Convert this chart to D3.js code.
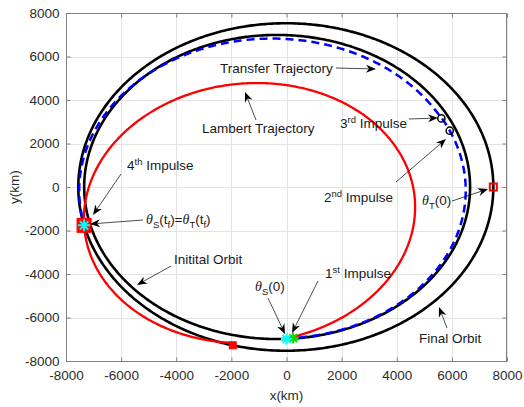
<!DOCTYPE html>
<html>
<head>
<meta charset="utf-8">
<script src="https://cdn.jsdelivr.net/npm/d3@7"></script>
<style>
  html, body { margin: 0; padding: 0; background: #fff; }
  svg { display: block; font-family: "Liberation Sans", Arial, Helvetica, sans-serif; }
</style>
</head>
<body>
<svg id="chart" width="524" height="407"></svg>
<script>
// ---- Orbital elements (km, degrees); focus at the origin ----
const orbitNames     = ["Initial Orbit", "Final Orbit", "Lambert Trajectory", "Transfer Leg 1", "Transfer Leg 2"];
const semiMajorAxes  = [7000, 7529, 6127, 6809, 6984];
const eccentricities = [0.0486, 0.0033, 0.2936, 0.0509, 0.0796];
const periapsisArgs  = [0, 0, 41.76, 28.5, 14.4];
// true-anomaly span drawn for each orbit (deg)
const arcStarts = [-180, -180, -90, -90, 29.3];
const arcEnds   = [180, 180, 255, 29.3, 193.5];

// ---- Events: orbit index and true anomaly (deg) ----
const eventNames     = ["thetaS0", "impulse1", "impulse2", "impulse3", "impulse4", "thetaT0", "lambertEnd"];
const eventOrbits    = [0, 3, 3, 4, 1, 1, 1];
const eventAnomalies = [-90, -88, 23.6, 29.3, 193.5, 0, 255];

// ---- Axes ----
const xTicks = [-8000, -6000, -4000, -2000, 0, 2000, 4000, 6000, 8000];
const yTicks = [-8000, -6000, -4000, -2000, 0, 2000, 4000, 6000, 8000];
const xLabel = "x(km)";
const yLabel = "y(km)";

// ---- Layout ----
const plot = { left: 66, right: 507, top: 13, bottom: 361 };
const svg = d3.select("#chart");
const x = d3.scaleLinear().domain([-8000, 8000]).range([plot.left, plot.right]);
const y = d3.scaleLinear().domain([-8000, 8000]).range([plot.bottom, plot.top]);
const FS = 13.5;
const rad = Math.PI / 180;

function orbitPoint(i, nuDeg) {
  const a = semiMajorAxes[i], e = eccentricities[i];
  const p = a * (1 - e * e);
  const r = p / (1 + e * Math.cos((nuDeg - periapsisArgs[i]) * rad));
  return [r * Math.cos(nuDeg * rad), r * Math.sin(nuDeg * rad)];
}
function arcPoints(i, from, to) {
  const pts = d3.range(from, to, 0.5).map(nu => orbitPoint(i, nu));
  pts.push(orbitPoint(i, to));
  return pts;
}
const line = d3.line().x(d => x(d[0])).y(d => y(d[1]));

// grid
const grid = svg.append("g").attr("stroke", "#e3e3e3").attr("stroke-width", 1);
grid.selectAll("line.gx").data(xTicks).join("line")
  .attr("x1", d => Math.round(x(d)) + 0.5).attr("x2", d => Math.round(x(d)) + 0.5)
  .attr("y1", plot.top).attr("y2", plot.bottom);
grid.selectAll("line.gy").data(yTicks).join("line")
  .attr("y1", d => Math.round(y(d)) + 0.5).attr("y2", d => Math.round(y(d)) + 0.5)
  .attr("x1", plot.left).attr("x2", plot.right);

// orbits
const curves = svg.append("g").attr("fill", "none");
[0, 1].forEach(i => {
  curves.append("path")
    .datum(arcPoints(i, arcStarts[i], arcEnds[i]))
    .attr("d", d => line(d) + "Z")
    .attr("stroke", "#000").attr("stroke-width", 2.6);
});
// transfer trajectory (two legs joined so the dash pattern runs on)
const transferPts = arcPoints(3, arcStarts[3], arcEnds[3]).concat(arcPoints(4, arcStarts[4], arcEnds[4]));
curves.append("path").datum(transferPts).attr("d", line)
  .attr("stroke", "#0000ff").attr("stroke-width", 2.5).attr("stroke-dasharray", "8,5");
// Lambert trajectory
curves.append("path").datum(arcPoints(2, arcStarts[2], arcEnds[2])).attr("d", line)
  .attr("stroke", "#ff0000").attr("stroke-width", 2.3);

// box and ticks
const axisColor = "#808080";
svg.append("rect").attr("x", plot.left + 0.5).attr("y", plot.top + 0.5)
  .attr("width", plot.right - plot.left - 1).attr("height", plot.bottom - plot.top)
  .attr("fill", "none").attr("stroke", axisColor).attr("stroke-width", 1);

const fmt = d => String(d);
const gx = svg.append("g").attr("transform", `translate(0,${plot.bottom + 0.5})`)
  .call(d3.axisBottom(x).tickValues(xTicks).tickFormat(fmt).tickSizeInner(-4).tickSizeOuter(0).tickPadding(9));
const gy = svg.append("g").attr("transform", `translate(${plot.left + 0.5},0)`)
  .call(d3.axisLeft(y).tickValues(yTicks).tickFormat(fmt).tickSizeInner(-4).tickSizeOuter(0).tickPadding(7));
const gt = svg.append("g").attr("transform", `translate(0,${plot.top + 0.5})`)
  .call(d3.axisTop(x).tickValues(xTicks).tickFormat("").tickSizeInner(-4).tickSizeOuter(0));
const gr = svg.append("g").attr("transform", `translate(${plot.right - 0.5},0)`)
  .call(d3.axisRight(y).tickValues(yTicks).tickFormat("").tickSizeInner(-4).tickSizeOuter(0));
[gx, gy, gt, gr].forEach(g => {
  g.select(".domain").remove();
  g.selectAll(".tick line").attr("stroke", axisColor);
  g.selectAll("text").attr("font-size", FS).attr("fill", "#2b2b2b")
    .attr("font-family", "'Liberation Sans', Arial, sans-serif");
});

svg.append("text").attr("x", (plot.left + plot.right) / 2).attr("y", 400)
  .attr("text-anchor", "middle").attr("font-size", FS).attr("fill", "#2b2b2b").text(xLabel);
svg.append("text").attr("transform", "translate(19,187) rotate(-90)")
  .attr("text-anchor", "middle").attr("font-size", FS).attr("fill", "#2b2b2b").text(yLabel);

// ---- Markers ----
const ev = name => {
  const k = eventNames.indexOf(name);
  const pt = orbitPoint(eventOrbits[k], eventAnomalies[k]);
  return [x(pt[0]), y(pt[1])];
};
const marks = svg.append("g");
function asterisk(cx, cy, r, color, w) {
  const d = r * Math.SQRT1_2;
  const p = `M${cx - r},${cy}H${cx + r}M${cx},${cy - r}V${cy + r}` +
            `M${cx - d},${cy - d}L${cx + d},${cy + d}M${cx - d},${cy + d}L${cx + d},${cy - d}`;
  marks.append("path").attr("d", p).attr("stroke", color).attr("stroke-width", w).attr("fill", "none");
}
function square(c, s, fill, stroke, w) {
  marks.append("rect").attr("x", c[0] - s / 2).attr("y", c[1] - s / 2).attr("width", s).attr("height", s)
    .attr("fill", fill).attr("stroke", stroke).attr("stroke-width", w);
}
// target start and Lambert end on the final orbit
square(ev("thetaT0"), 7, "none", "#ff0000", 2);
square(ev("lambertEnd"), 7, "#ff0000", "#ff0000", 1);
// rendezvous point
square(ev("impulse4"), 14, "#ff0000", "#ff0000", 1);
asterisk(...ev("impulse4"), 6, "#00ffff", 2);
// 2nd / 3rd impulse circles
["impulse2", "impulse3"].forEach(n => {
  const c = ev(n);
  marks.append("circle").attr("cx", c[0]).attr("cy", c[1]).attr("r", 3.6)
    .attr("fill", "none").attr("stroke", "#000").attr("stroke-width", 1.5);
});
// 1st impulse and spacecraft start
asterisk(...ev("impulse1"), 5.5, "#00dd00", 2);
asterisk(...ev("thetaS0"), 5.5, "#00ffff", 2);

// ---- Annotations ----
const TH = { t: "θ", greek: true };
const notes = [
  { parts: [{ t: "Transfer Trajectory" }], x: 220, y: 73, from: [336, 68], to: [376, 69] },
  { parts: [{ t: "Lambert Trajectory" }], x: 202, y: 133, from: [256, 120], to: [245, 92] },
  { parts: [{ t: "3" }, { t: "rd", sup: true }, { t: " Impulse" }], x: 340, y: 128, from: [409, 119], to: [438, 118] },
  { parts: [{ t: "2" }, { t: "nd", sup: true }, { t: " Impulse" }], x: 324, y: 202, from: [396, 182], to: [446, 139] },
  { parts: [TH, { t: "T", sub: true }, { t: "(0)" }], x: 422, y: 205, from: [452, 201], to: [488, 189] },
  { parts: [{ t: "4" }, { t: "th", sup: true }, { t: " Impulse" }], x: 127, y: 170, from: [121, 174], to: [93, 215] },
  { parts: [TH, { t: "S", sub: true }, { t: "(t" }, { t: "f", sub: true }, { t: ")=" }, TH, { t: "T", sub: true }, { t: "(t" }, { t: "f", sub: true }, { t: ")" }],
    x: 146, y: 224, from: [143, 220], to: [90, 224] },
  { parts: [{ t: "Initital Orbit" }], x: 174, y: 264, from: [171, 266], to: [137, 285] },
  { parts: [TH, { t: "S", sub: true }, { t: "(0)" }], x: 255, y: 291, from: [268, 298], to: [285, 334] },
  { parts: [{ t: "1" }, { t: "st", sup: true }, { t: " Impulse" }], x: 325, y: 278, from: [318, 281], to: [292, 333] },
  { parts: [{ t: "Final Orbit" }], x: 419, y: 343, from: [447, 328], to: [439, 307] }
];

const ann = svg.append("g");
function arrow(from, to) {
  const ang = Math.atan2(to[1] - from[1], to[0] - from[0]);
  const L = 10, W = 8, N = 3;
  ann.append("line").attr("x1", from[0]).attr("y1", from[1])
    .attr("x2", to[0] - Math.cos(ang) * (L - N)).attr("y2", to[1] - Math.sin(ang) * (L - N))
    .attr("stroke", "#000").attr("stroke-width", 0.7);
  const head = [[0, 0], [-L, W / 2], [-L + N, 0], [-L, -W / 2]]
    .map(([u, v]) => [to[0] + u * Math.cos(ang) - v * Math.sin(ang), to[1] + u * Math.sin(ang) + v * Math.cos(ang)]);
  ann.append("path").attr("d", "M" + head.join("L") + "Z").attr("fill", "#000");
}
function richText(n) {
  const t = ann.append("text").attr("x", n.x).attr("y", n.y).attr("font-size", FS).attr("fill", "#1a1a1a");
  let shift = 0;
  n.parts.forEach(p => {
    const target = p.sup ? -5.5 : p.sub ? 4 : 0;
    const ts = t.append("tspan").attr("dy", target - shift).text(p.t);
    shift = target;
    if (p.sup || p.sub) ts.attr("font-size", 9.5);
    if (p.greek) ts.attr("font-family", "'Liberation Serif', 'DejaVu Serif', serif").attr("font-style", "italic").attr("font-size", 14);
  });
}
notes.forEach(n => { arrow(n.from, n.to); richText(n); });
</script>
</body>
</html>
